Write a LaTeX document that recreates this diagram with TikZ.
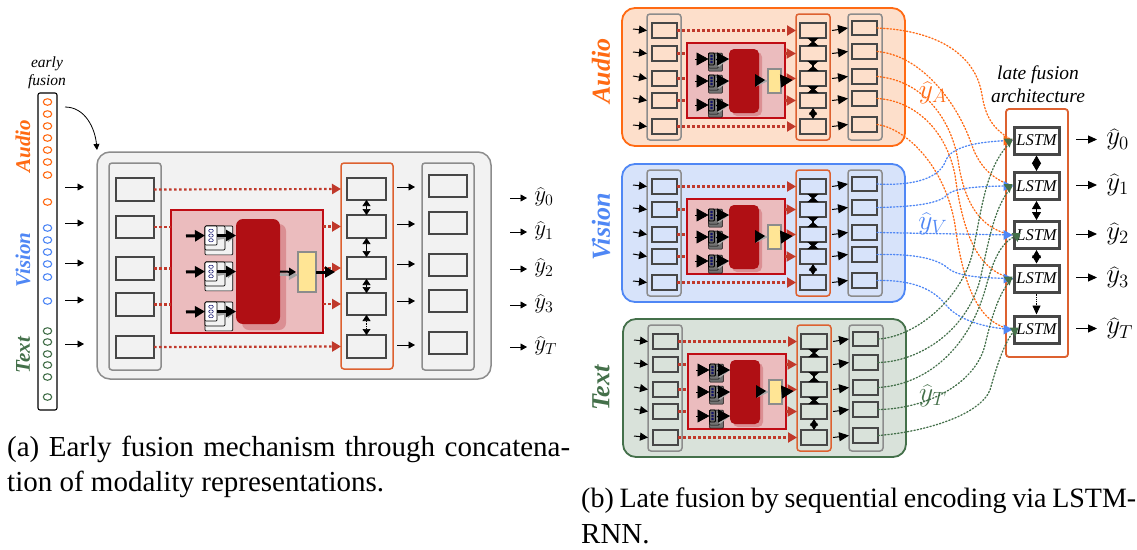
\documentclass[tikz,border=0pt]{standalone}
\usepackage{fontspec}
\setmainfont{Liberation Serif}
\usetikzlibrary{arrows.meta,calc,shapes.geometric}
\definecolor{cAud}{HTML}{FF6A13}
\definecolor{cVis}{HTML}{4F87F5}
\definecolor{cTxt}{HTML}{44704A}
\definecolor{fAud}{HTML}{FDDFCB}
\definecolor{fVis}{HTML}{D7E3FA}
\definecolor{fTxt}{HTML}{D9E2DA}
\definecolor{cRed}{HTML}{C0392B}
\definecolor{cRedB}{HTML}{C00C14}
\definecolor{fRed}{HTML}{EBBCBE}
\definecolor{cDark}{HTML}{B00F14}
\definecolor{cShad}{HTML}{DB8F93}
\definecolor{cYel}{HTML}{FFE595}
\definecolor{cCol}{HTML}{DD6130}
\definecolor{cGr}{HTML}{8C8C8C}
\definecolor{cBx}{HTML}{474747}
\tikzset{
  panelbox/.style={draw=cGr,fill=#1,line width=1.5pt,rounded corners=13pt},
  colbox/.style={draw=cGr,line width=1.5pt,rounded corners=3pt},
  fusebox/.style={draw=cCol,line width=1.5pt,rounded corners=3pt},
  unitbox/.style={draw=cBx,line width=2.4pt},
  redbox/.style={draw=cRedB,fill=fRed,line width=1.3pt},
  darkbox/.style={fill=cDark,rounded corners=7pt},
  shadbox/.style={fill=cShad,rounded corners=7pt},
  yelbox/.style={draw=cGr,fill=cYel,line width=1.5pt},
  thinarrow/.style={-{Triangle[length=6.5pt,width=7pt]},line width=.9pt,black},
  thickarrow/.style={-{Triangle[length=10pt,width=11pt]},line width=3pt,black},
  shadarrow/.style={-{Triangle[length=9pt,width=10pt]},line width=2.6pt,cGr!80},
  reddot/.style={draw=cRed,line width=2.2pt,dash pattern=on 2.5pt off 2.5pt},
  redtip/.style={-{Triangle[length=9pt,width=10pt]},cRed,line width=2.2pt,dash pattern=on 2.5pt off 2.5pt},
  updown/.style={{Triangle[length=6pt,width=8pt]}-{Triangle[length=6pt,width=8pt]},line width=.7pt,black},
  bigtip/.style={-{Triangle[length=12pt,width=13pt]},line width=.8pt,black},
  greytip/.style={-{Triangle[length=12pt,width=11pt]},line width=.8pt,cGr!75},
  midarrow/.style={-{Triangle[length=8pt,width=8pt]},line width=1pt,black},
  bowtie/.style={{Triangle[reversed,length=5pt,width=11pt]}-{Triangle[reversed,length=5pt,width=11pt]},line width=1.2pt,black},
  starlink/.style={{Triangle[length=6.5pt,width=8pt]}-{Triangle[length=6.5pt,width=8pt]},line width=.8pt,black},
  latedot/.style={line width=1.3pt,dash pattern=on 1.3pt off 2pt,line cap=round},
  lstmbox/.style={draw=cBx,fill=white,line width=3pt,inner sep=0pt,font=\fontsize{16.5}{18}\selectfont\itshape},
  lab/.style={inner sep=0pt,font=\fontsize{21}{26}\selectfont\bfseries\itshape},
  labbig/.style={inner sep=0pt,font=\fontsize{26}{32}\selectfont\bfseries\itshape},
  capt/.style={inner sep=0pt,anchor=base west,font=\fontsize{29}{33}\selectfont},
  captb/.style={inner sep=0pt,anchor=base west,font=\fontsize{28}{33}\selectfont},
  yhatl/.style={inner sep=0pt,anchor=west,font=\LARGE,scale=1.33},
  yhatb/.style={inner sep=0pt,anchor=west,font=\LARGE,scale=1.56},
  yhatc/.style={inner sep=0pt,font=\LARGE,scale=1.6},
  docface/.style={draw=black,line width=.7pt,rounded corners=1pt,inner sep=0pt},
  docfront/.style={docface,fill=white},
  docback/.style={docface,fill=black!5},
  vecbox/.style={draw=black,fill=white,line width=1.1pt,rounded corners=2pt},
  vdot/.style={ellipse,draw=#1,line width=1.1pt,minimum width=8.5pt,minimum height=6.5pt,inner sep=0pt}
}
\newcommand\pbox[6]{% name, style, x1,y1,x2,y2
  \pgfmathsetmacro\myw{#5-#3}\pgfmathsetmacro\myh{#6-#4}%
  \pgfmathsetmacro\myx{(#3+#5)/2}\pgfmathsetmacro\myy{(#4+#6)/2}%
  \node[#2,inner sep=0pt,outer sep=0pt,minimum width=\myw pt,minimum height=\myh pt] (#1) at (\myx,\myy) {};}
% document stack: name, x, y, w, h, dot size
\newcommand\docstack[6]{%
  \pgfmathsetmacro\sdx{#4*.33}\pgfmathsetmacro\sdy{#5*.13}%
  \pbox{#1c}{docback}{#2+2*\sdx}{#3+2*\sdy}{#2+#4+2*\sdx}{#3+#5+2*\sdy}
  \pbox{#1b}{docback}{#2+\sdx}{#3+\sdy}{#2+#4+\sdx}{#3+#5+\sdy}
  \pbox{#1}{docfront}{#2}{#3}{#2+#4}{#3+#5}
  \foreach \k in {1,2,3}{
    \node[ellipse,draw=black!60!blue,line width=.5pt,inner sep=0pt,minimum width=#6*1.3pt,minimum height=#6*.9pt] (#1d\k) at ($(#1.north)!\k/4!(#1.south)$) {};}
}
% late panel: prefix, dx, dy, fill, stroke
\newcommand\latepanel[5]{%
\begin{scope}[shift={(#2,#3)},docfront/.style={docface,fill=black!60,line width=.9pt},docback/.style={docface,fill=black!55,line width=.5pt}]
  \pbox{#1out}{panelbox=#4,draw=#5,line width=1.8pt}{622}{8}{905}{146}
  \pbox{#1cl}{colbox}{647}{14}{681}{140}
  \pbox{#1cm}{fusebox}{796}{14}{830}{140}
  \pbox{#1cr}{colbox}{848}{14}{882}{140}
  \foreach \n/\a/\b in {1/23/38,2/46/61,3/71/86,4/93/108,5/119/134}{
    \pbox{#1l\n}{unitbox}{652}{\a}{677}{\b}
    \pbox{#1m\n}{unitbox}{800}{\a}{826}{\b}
  }
  \foreach \n/\a/\b in {1/21/35,2/44/59,3/69/84,4/91/106,5/117/132}{
    \pbox{#1r\n}{unitbox}{852}{\a}{877}{\b}
  }
  \foreach \n/\y in {1/29,2/52,3/76,4/98,5/125}{
    \coordinate (#1ia\n) at (633,\y);
    \draw[midarrow] (#1ia\n) -- (#1l\n.west-|#1cl.west);
    \draw[midarrow,-{Triangle[length=10pt,width=9pt]}] (#1m\n.west-|#1cm.east)++(2,0) -- (#1r\n.west-|#1cr.west);
  }
  \pbox{#1red}{redbox,line width=1.6pt}{687}{43}{785}{118}
  \foreach \n in {2,3,4}{
    \draw[reddot] (#1l\n.east) -- (#1l\n.east-|#1red.west);
    \draw[redtip,-{Triangle[length=9.5pt,width=10pt]},solid] (#1m\n.west-|#1red.east) -- ($(#1m\n.west)+(-4,0)$);
  }
  \draw[redtip] (#1l1.east) -- (#1m1.west-|#1cm.west);
  \draw[redtip] (#1l5.east) -- (#1m5.west-|#1cm.west);
  \pbox{#1sh}{shadbox,rounded corners=5pt}{732}{52}{762}{116}
  \pbox{#1nn}{darkbox,rounded corners=5pt}{729}{49}{759}{113}
  \pbox{#1ye}{yelbox}{768}{69}{781}{93}
  \foreach \n/\y in {1/53,2/75,3/99}{
    \docstack{#1dc\n}{708.5}{\y}{6}{12}{1.8}
    \coordinate (#1ac\n) at (695,\y+6);
    \draw[bigtip] (#1ac\n) -- (#1dc\n.west);
    \draw[greytip] (#1dc\n.east)++(1,3) -- (#1nn.west|-#1dc\n.east);
    \draw[bigtip] (#1dc\n.east)++(1,0) -- (#1nn.west|-#1dc\n.east);
  }
  \draw[greytip] ($(#1nn.east)+(2,0)$) -- (#1ye.west);
  \fill[black] (755,74) -- (765,80) -- (755,87) -- cycle;
  \coordinate (#1oy) at (792.5,80);
  \draw[bigtip] (#1ye.east) -- (#1oy);
  \draw[bowtie] (#1m1.south) -- (#1m2.north);
  \draw[bowtie] (#1m2.south) -- (#1m3.north);
  \draw[bowtie] (#1m3.south) -- (#1m4.north);
  \draw[starlink] (#1m4.south) -- (#1m5.north);
\end{scope}}
\begin{document}
\begin{tikzpicture}[x=1pt,y=-1pt]
\useasboundingbox[fill=white] (0,0) rectangle (1137,549);
%% ---- (a) early fusion ----
\node[inner sep=0pt,align=center,font=\fontsize{15.5}{18}\selectfont\itshape] (ef) at (47,73) {early\\fusion};
\pbox{vec}{vecbox}{38}{93}{57}{410}
\foreach \n/\y in {1/102,2/114,3/126,4/138,5/150,6/162,7/175,8/202}{\node[vdot=cAud] (va\n) at (47.5,\y) {};}
\foreach \n/\y in {1/228,2/240,3/252,4/264,5/277,6/301}{\node[vdot=cVis] (vb\n) at (47.5,\y) {};}
\foreach \n/\y in {1/331,2/342,3/354,4/365,5/377,6/397}{\node[vdot=cTxt] (vc\n) at (47.5,\y) {};}
\node[lab,text=cAud,rotate=90] (la) at (23,146) {Audio};
\node[lab,text=cVis,rotate=90] (lv) at (23,260) {Vision};
\node[lab,text=cTxt,rotate=90] (lt) at (23,355) {Text};
\pbox{eout}{panelbox=black!5}{97}{152}{491}{379}
\coordinate (cs) at (65,107); \coordinate (ce) at (97,150);
\draw[-{Triangle[length=6pt,width=6pt]},line width=.8pt] (cs) .. controls (85,107) and (95,128) .. (ce);
\pbox{ecl}{colbox}{109}{163}{161}{370}
\pbox{ecm}{fusebox}{341}{163}{393}{369}
\pbox{ecr}{colbox}{422}{163}{474}{370}
\foreach \n/\a/\b in {1/178/201,2/216/238,3/257/280,4/293/316,5/336/358}{\pbox{el\n}{unitbox}{116}{\a}{154}{\b}}
\foreach \n/\a/\b in {1/178/200,2/215/238,3/257/279,4/293/315,5/335/358}{\pbox{em\n}{unitbox}{347}{\a}{386}{\b}}
\foreach \n/\a/\b in {1/175/197,2/212/234,3/254/276,4/290/312,5/332/354}{\pbox{er\n}{unitbox}{429}{\a}{467}{\b}}
\foreach \n/\y in {1/187,2/223,3/263,4/300,5/344}{
  \coordinate (ea\n) at (65,\y); \coordinate (eb\n) at (84,\y);
  \draw[thinarrow] (ea\n) -- (eb\n);
}
\foreach \n/\y in {1/187,2/224,3/264,4/301,5/345}{
  \coordinate (ec\n) at (397,\y); \coordinate (ed\n) at (415,\y);
  \draw[thinarrow] (ec\n) -- (ed\n);
}
\foreach \n/\y/\t in {1/198/0,2/232/1,3/269/2,4/305/3,5/347/T}{
  \node[yhatl] (ey\n) at (534,\y-1) {$\widehat{y}_{\t}$};
  \coordinate (ee\n) at (510,\y);
  \draw[thinarrow] (ee\n) -- ($(ey\n.west|-ee\n)+(-7,0)$);
}
\pbox{ered}{redbox}{171}{210}{323}{333}
\draw[redtip] (el1.east) -- (em1.west-|ecm.west);
\draw[redtip] (el5.east) -- (em5.west-|ecm.west);
\foreach \n in {2,3,4}{
  \draw[reddot] (el\n.east) -- (el\n.east-|ered.west);
  \draw[redtip] (em\n.west-|ered.east) -- (em\n.west-|ecm.west);
}
\pbox{esh}{shadbox}{242}{224}{286}{330}
\pbox{enn}{darkbox}{236}{219}{280}{324}
\pbox{eye}{yelbox}{298}{252}{316}{292}
\foreach \n/\y in {1/226,2/262,3/302}{
  \docstack{edc\n}{205}{\y}{12}{19}{3.6}
  \coordinate (eac\n) at (186,\y+10);
  \draw[thickarrow] (eac\n) -- (edc\n.west);
  \draw[shadarrow] (edc\n.east)++(1,3) -- (enn.west|-edc\n.east);
  \draw[thickarrow] (edc\n.east) -- (enn.west|-edc\n.east);
}
\draw[shadarrow] ($(enn.east)+(0,3)$) -- ($(eye.west)+(0,3)$);
\draw[-{Triangle[length=7pt,width=8pt]},line width=2pt] ($(enn.east)+(0,0)$) -- ($(eye.west)+(-2,0)$);
\coordinate (eoy) at (335,272);
\draw[thickarrow] (eye.east|-eoy) -- (eoy);
\foreach \a/\b in {1/2,2/3,3/4}{\draw[updown] (em\a.south) -- (em\b.north);}
\draw[updown,densely dotted] (em4.south) -- (em5.north);
%% ---- (b) late fusion ----
\latepanel{A}{0}{0}{fAud}{cAud}
\latepanel{V}{0}{156}{fVis}{cVis}
\latepanel{T}{1}{311}{fTxt}{cTxt}
\node[labbig,text=cAud,rotate=90] (lla) at (601,71) {Audio};
\node[labbig,text=cVis,rotate=90] (llv) at (601,227) {Vision};
\node[labbig,text=cTxt,rotate=90] (llt) at (601,388) {Text};
\node[inner sep=0pt,align=center,font=\fontsize{19.5}{23}\selectfont\itshape] (lf) at (1038,84) {late fusion\\architecture};
\pbox{lcol}{fusebox,line width=1.8pt}{1006}{109}{1068}{357}
\foreach \n/\y/\t in {1/140.5/0,2/186/1,3/235/2,4/278.5/3,5/329.5/T}{
  \node[lstmbox,minimum width=45pt,minimum height=27pt] (L\n) at (1036.5,\y) {LSTM};
  \coordinate (Lo\n) at (1076,\y-1);
  \node[yhatb] (LY\n) at (1106,\y-1) {$\widehat{y}_{\t}$};
  \draw[-{Triangle[length=9pt,width=8pt]},line width=1pt] (Lo\n) -- ($(LY\n.west)+(-9,0)$);
}
\foreach \a/\b in {1/2,2/3,3/4}{\draw[starlink,{Triangle[length=8pt,width=9pt]}-{Triangle[length=8pt,width=9pt]}] (L\a.south) -- (L\b.north);}
\draw[-{Triangle[length=9pt,width=8pt]},line width=.8pt,densely dotted] (L4.south) -- (L5.north);
% audio outputs
\begin{scope}[latedot,draw=cAud]
\draw (Ar1.east) .. controls (930,30) and (975,50) .. (982,95) .. controls (986,120) and (995,130) .. (L1.west);
\draw (Ar2.east) .. controls (920,55) and (955,100) .. (970,140) .. controls (978,165) and (990,178) .. (L2.west);
\draw (Ar3.east) .. controls (920,80) and (950,115) .. (958,160) .. controls (965,210) and (985,230) .. (L3.west);
\draw (Ar4.east) .. controls (910,100) and (945,125) .. (955,175) .. controls (965,250) and (985,272) .. (L4.west);
\draw (Ar5.east) .. controls (905,128) and (945,165) .. (955,225) .. controls (965,300) and (985,325) .. (L5.west);
\end{scope}
% vision outputs
\begin{scope}[latedot,draw=cVis]
\draw (Vr1.east) .. controls (915,186) and (940,178) .. (946,160) .. controls (952,145) and (985,141) .. (L1.west);
\draw (Vr2.east) .. controls (905,207) and (938,205) .. (947,195) .. controls (955,187) and (985,186) .. (L2.west);
\draw (Vr3.east) -- (L3.west);
\draw (Vr4.east) .. controls (905,254) and (935,256) .. (949,269) .. controls (960,277) and (985,278) .. (L4.west);
\draw (Vr5.east) .. controls (905,280) and (930,285) .. (946,305) .. controls (958,320) and (985,328) .. (L5.west);
\end{scope}
% text outputs
\begin{scope}[latedot,draw=cTxt]
\draw (Tr1.east) .. controls (915,337) and (960,300) .. (972,255) .. controls (982,210) and (985,165) .. (L1.west);
\draw (Tr2.east) .. controls (915,362) and (965,335) .. (980,280) .. controls (990,235) and (995,205) .. (L2.west);
\draw (Tr3.east) .. controls (925,385) and (970,350) .. (987,283) .. controls (995,255) and (1003,240) .. ($(L3.west)+(6,0)$);
\draw (Tr4.east) .. controls (925,409) and (975,385) .. (985,345) .. controls (992,315) and (1000,290) .. (L4.west);
\draw (Tr5.east) .. controls (925,432) and (980,415) .. (990,390) .. controls (997,365) and (1005,340) .. ($(L5.west)+(3,0)$);
\end{scope}
\foreach \n in {1}{
  \fill[cAud] ($(L\n.west)+(-9,-5)$) -- ($(L\n.west)+(-9,5)$) -- (L\n.west) -- cycle;
}
\foreach \n in {2,3,4,5}{
  \fill[cVis] ($(L\n.west)+(-9,-5)$) -- ($(L\n.west)+(-9,5)$) -- (L\n.west) -- cycle;
}
\foreach \n/\dx in {1/0,2/0,3/8,4/0,5/6}{
  \fill[cTxt] ($(L\n.west)+(\dx-9,-2)$) -- ($(L\n.west)+(\dx-3,7)$) -- ($(L\n.west)+(\dx,-2)$) -- cycle;
}
\node[yhatc,text=cAud] (ya) at (933,93) {$\widehat{y}_{A}$};
\node[yhatc,text=cVis] (yv) at (933,224) {$\widehat{y}_{V}$};
\node[yhatc,text=cTxt] (yt) at (933,396) {$\widehat{y}_{T}$};
%% ---- captions ----
\node[capt] (ca1) at (7,456) {\hbox to 563pt{(a) Early fusion mechanism through concatena-}};
\node[capt] (ca2) at (7,491) {tion of modality representations.};
\node[captb] (cb1) at (581,507) {\spaceskip=5pt plus 3pt minus 2pt\hbox to 555pt{(b) Late fusion by sequential encoding via LSTM-}};
\node[capt] (cb2) at (581,543) {RNN.};
\end{tikzpicture}
\end{document}
